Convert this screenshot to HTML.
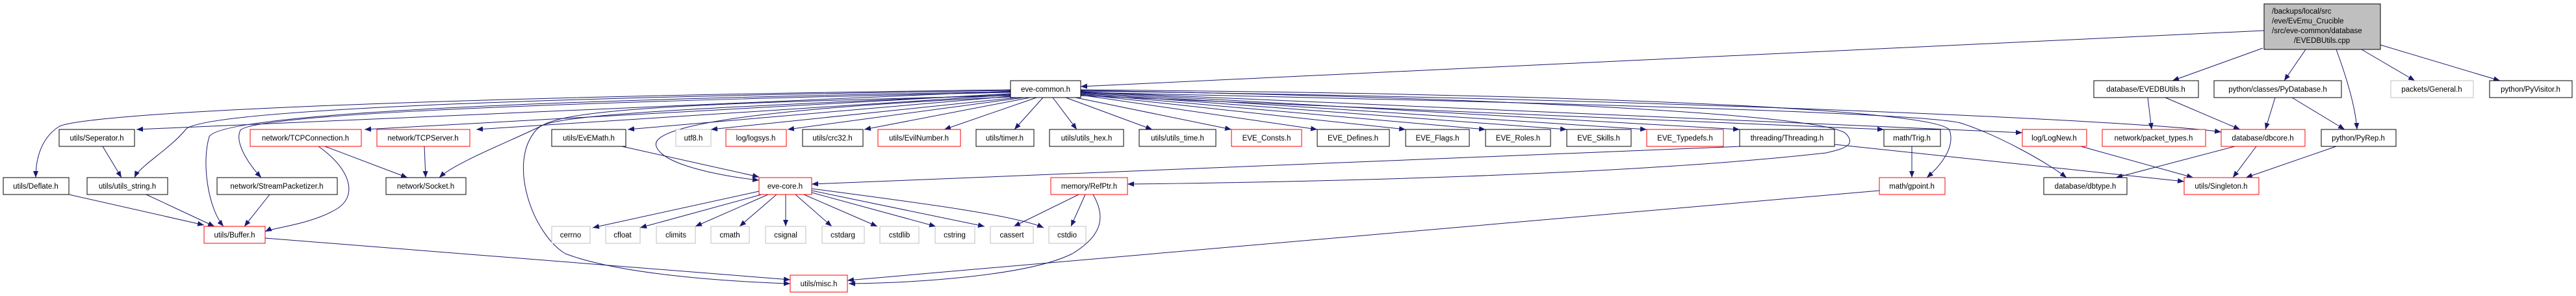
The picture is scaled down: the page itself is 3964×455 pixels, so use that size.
<!DOCTYPE html>
<html><head><meta charset="utf-8"><style>
html,body{margin:0;padding:0;background:#fff;}
svg{display:block;}
text{font-family:"Liberation Sans",sans-serif;font-size:11.5px;fill:#000;}
.b{fill:#fff;stroke:#000;stroke-width:1;}
.r{fill:#fff;stroke:#ff0000;stroke-width:1;}
.g{fill:#fff;stroke:#bfbfbf;stroke-width:1;}
.e{fill:none;stroke:#191970;stroke-width:1;marker-end:url(#a);}
</style></head><body>
<svg width="3964" height="455" viewBox="0 0 3964 455" xmlns="http://www.w3.org/2000/svg">
<defs><marker id="a" markerUnits="userSpaceOnUse" markerWidth="11" markerHeight="8" refX="10" refY="4" orient="auto"><path d="M0,0 L10,4 L0,8 Z" fill="#191970"/></marker></defs>
<g>
<path class="e" d="M3484,47 L1663,133"/>
<path class="e" d="M3482,74 L3343,124"/>
<path class="e" d="M3548,76 L3515,124"/>
<path class="e" d="M3595,76 C3615,130 3625,170 3627,199"/>
<path class="e" d="M3634,76 L3716,124"/>
<path class="e" d="M3663,69 L3847,124"/>
<path class="e" d="M3305,150 L3311,199"/>
<path class="e" d="M3332,150 L3447,199"/>
<path class="e" d="M3501,150 L3486,199"/>
<path class="e" d="M3527,150 L3608,199"/>
<path class="e" d="M3439,225 L3256,273"/>
<path class="e" d="M3472,225 L3436,273"/>
<path class="e" d="M3595,225 L3456,273"/>
<path class="e" d="M3202,225 L3375,273"/>

<path class="e" d="M1555,138 C600,150 120,175 90,195 C60,215 55,250 55,273"/>
<path class="e" d="M1555,140 L210,199"/>
<path class="e" d="M1555,139 C800,150 300,170 285,200 C260,230 215,255 207,273"/>
<path class="e" d="M1555,141 C700,155 340,180 322,210 C310,250 320,320 344,348"/>
<path class="e" d="M1555,142 C700,160 390,180 370,200 C360,220 385,255 402,273"/>
<path class="e" d="M1555,144 L561,199"/>
<path class="e" d="M1555,146 L733,199"/>
<path class="e" d="M1555,145 C1100,165 860,175 830,195 C790,215 700,250 676,273"/>
<path class="e" d="M1555,148 L966,199"/>
<path class="e" d="M1555,147 C1000,160 850,170 825,200 C780,250 820,360 870,390 C950,420 1100,432 1216,436"/>
<path class="e" d="M1565,150 L1094,199"/>
<path class="e" d="M1575,150 L1212,199"/>
<path class="e" d="M1585,150 L1330,199"/>
<path class="e" d="M1595,150 L1453,199"/>
<path class="e" d="M1605,150 L1561,199"/>
<path class="e" d="M1620,150 L1657,199"/>
<path class="e" d="M1640,150 L1773,199"/>
<path class="e" d="M1655,150 L1895,199"/>
<path class="e" d="M1663,146 L2027,199"/>
<path class="e" d="M1663,145 L2163,199"/>
<path class="e" d="M1663,144 L2286,199"/>
<path class="e" d="M1663,143 L2411,199"/>
<path class="e" d="M1663,142 L2534,199"/>
<path class="e" d="M1663,141 L2677,199"/>
<path class="e" d="M1663,147 L2899,199"/>
<path class="e" d="M1555,149 C1100,170 1000,200 1010,225 C1020,255 1120,272 1168,277"/>
<path class="e" d="M957,225 L1168,272"/>
<path class="e" d="M2680,225 L1249,283"/>
<path class="e" d="M1663,139 C2300,150 2800,175 2840,205 C2860,225 2830,230 2810,235 C2500,270 2000,280 1735,283"/>
<path class="e" d="M1663,138 C2500,145 2980,170 3000,200 C3010,230 2980,260 2965,273"/>
<path class="e" d="M1663,141 L3112,204"/>
<path class="e" d="M1663,140 C2500,150 3300,185 3418,203"/>
<path class="e" d="M1663,142 C2500,160 2980,175 3020,190 C3080,210 3150,250 3180,273"/>
<path class="e" d="M2823,222 L3361,279"/>
<path class="e" d="M2892,293 L1304,431"/>
<path class="e" d="M1682,299 C1700,330 1700,360 1650,390 C1580,425 1400,435 1306,436"/>
<path class="e" d="M1660,299 L1560,348"/>
<path class="e" d="M1670,299 L1648,348"/>
<path class="e" d="M1168,294 L912,350"/>
<path class="e" d="M1172,299 L985,350"/>
<path class="e" d="M1182,299 L1070,348"/>
<path class="e" d="M1195,299 L1138,348"/>
<path class="e" d="M1209,299 L1209,348"/>
<path class="e" d="M1224,299 L1280,348"/>
<path class="e" d="M1237,299 L1350,348"/>
<path class="e" d="M1249,296 L1440,348"/>
<path class="e" d="M1249,293 L1515,348"/>
<path class="e" d="M1249,290 C1400,310 1560,330 1606,350"/>
<path class="e" d="M106,299 L314,346"/>
<path class="e" d="M225,299 L330,348"/>
<path class="e" d="M415,299 L376,348"/>
<path class="e" d="M490,225 C540,260 550,300 520,320 C480,345 420,350 408,356"/>
<path class="e" d="M500,225 L627,273"/>
<path class="e" d="M653,225 L655,273"/>
<path class="e" d="M158,225 L187,273"/>
<path class="e" d="M408,366 L1216,430"/>
<path class="e" d="M2942,225 L2942,273"/>
</g>
<g text-anchor="middle">
<rect x="3484" y="6" width="179" height="70" fill="#bfbfbf" stroke="#000"/>
<text x="3496" y="21" text-anchor="start">/backups/local/src</text>
<text x="3496" y="36" text-anchor="start">/eve/EvEmu_Crucible</text>
<text x="3496" y="51" text-anchor="start">/src/eve-common/database</text>
<text x="3573" y="66">/EVEDBUtils.cpp</text>

<rect class="b" x="1555" y="124" width="108" height="26"/><text x="1609" y="141">eve-common.h</text>
<rect class="b" x="3222" y="124" width="161" height="26"/><text x="3302" y="141">database/EVEDBUtils.h</text>
<rect class="b" x="3407" y="124" width="196" height="26"/><text x="3505" y="141">python/classes/PyDatabase.h</text>
<rect class="g" x="3679" y="124" width="127" height="26"/><text x="3742" y="141">packets/General.h</text>
<rect class="b" x="3831" y="124" width="127" height="26"/><text x="3894" y="141">python/PyVisitor.h</text>

<rect class="b" x="91" y="199" width="116" height="26"/><text x="149" y="216">utils/Seperator.h</text>
<rect class="r" x="385" y="199" width="171" height="26"/><text x="470" y="216">network/TCPConnection.h</text>
<rect class="r" x="580" y="199" width="143" height="26"/><text x="651" y="216">network/TCPServer.h</text>
<rect class="b" x="849" y="199" width="114" height="26"/><text x="906" y="216">utils/EvEMath.h</text>
<rect class="g" x="1040" y="199" width="54" height="26"/><text x="1067" y="216">utf8.h</text>
<rect class="r" x="1117" y="199" width="93" height="26"/><text x="1163" y="216">log/logsys.h</text>
<rect class="b" x="1235" y="199" width="93" height="26"/><text x="1281" y="216">utils/crc32.h</text>
<rect class="r" x="1351" y="199" width="127" height="26"/><text x="1414" y="216">utils/EvilNumber.h</text>
<rect class="b" x="1502" y="199" width="89" height="26"/><text x="1546" y="216">utils/timer.h</text>
<rect class="b" x="1615" y="199" width="114" height="26"/><text x="1672" y="216">utils/utils_hex.h</text>
<rect class="b" x="1753" y="199" width="118" height="26"/><text x="1812" y="216">utils/utils_time.h</text>
<rect class="r" x="1895" y="199" width="108" height="26"/><text x="1949" y="216">EVE_Consts.h</text>
<rect class="b" x="2027" y="199" width="111" height="26"/><text x="2082" y="216">EVE_Defines.h</text>
<rect class="b" x="2163" y="199" width="98" height="26"/><text x="2212" y="216">EVE_Flags.h</text>
<rect class="b" x="2286" y="199" width="100" height="26"/><text x="2336" y="216">EVE_Roles.h</text>
<rect class="b" x="2411" y="199" width="99" height="26"/><text x="2460" y="216">EVE_Skills.h</text>
<rect class="r" x="2534" y="199" width="118" height="26"/><text x="2593" y="216">EVE_Typedefs.h</text>
<rect class="b" x="2677" y="199" width="146" height="26"/><text x="2750" y="216">threading/Threading.h</text>
<rect class="b" x="2899" y="199" width="87" height="26"/><text x="2942" y="216">math/Trig.h</text>
<rect class="r" x="3112" y="199" width="99" height="26"/><text x="3161" y="216">log/LogNew.h</text>
<rect class="r" x="3235" y="199" width="159" height="26"/><text x="3314" y="216">network/packet_types.h</text>
<rect class="r" x="3418" y="199" width="129" height="26"/><text x="3482" y="216">database/dbcore.h</text>
<rect class="b" x="3572" y="199" width="115" height="26"/><text x="3629" y="216">python/PyRep.h</text>

<rect class="b" x="5" y="273" width="101" height="26"/><text x="55" y="290">utils/Deflate.h</text>
<rect class="b" x="134" y="273" width="124" height="26"/><text x="196" y="290">utils/utils_string.h</text>
<rect class="b" x="334" y="273" width="185" height="26"/><text x="426" y="290">network/StreamPacketizer.h</text>
<rect class="b" x="594" y="273" width="123" height="26"/><text x="655" y="290">network/Socket.h</text>
<rect class="r" x="1168" y="273" width="81" height="26"/><text x="1208" y="290">eve-core.h</text>
<rect class="r" x="1617" y="273" width="118" height="26"/><text x="1676" y="290">memory/RefPtr.h</text>
<rect class="r" x="2892" y="273" width="101" height="26"/><text x="2942" y="290">math/gpoint.h</text>
<rect class="b" x="3145" y="273" width="128" height="26"/><text x="3209" y="290">database/dbtype.h</text>
<rect class="r" x="3361" y="273" width="115" height="26"/><text x="3418" y="290">utils/Singleton.h</text>

<rect class="r" x="314" y="348" width="94" height="26"/><text x="361" y="365">utils/Buffer.h</text>
<rect class="g" x="849" y="348" width="59" height="26"/><text x="878" y="365">cerrno</text>
<rect class="g" x="932" y="348" width="53" height="26"/><text x="958" y="365">cfloat</text>
<rect class="g" x="1010" y="348" width="60" height="26"/><text x="1040" y="365">climits</text>
<rect class="g" x="1094" y="348" width="59" height="26"/><text x="1123" y="365">cmath</text>
<rect class="g" x="1178" y="348" width="62" height="26"/><text x="1209" y="365">csignal</text>
<rect class="g" x="1265" y="348" width="65" height="26"/><text x="1297" y="365">cstdarg</text>
<rect class="g" x="1354" y="348" width="60" height="26"/><text x="1384" y="365">cstdlib</text>
<rect class="g" x="1439" y="348" width="61" height="26"/><text x="1469" y="365">cstring</text>
<rect class="g" x="1524" y="348" width="66" height="26"/><text x="1557" y="365">cassert</text>
<rect class="g" x="1614" y="348" width="57" height="26"/><text x="1642" y="365">cstdio</text>

<rect class="r" x="1216" y="423" width="88" height="26"/><text x="1260" y="440">utils/misc.h</text>
</g>
</svg>
</body></html>
